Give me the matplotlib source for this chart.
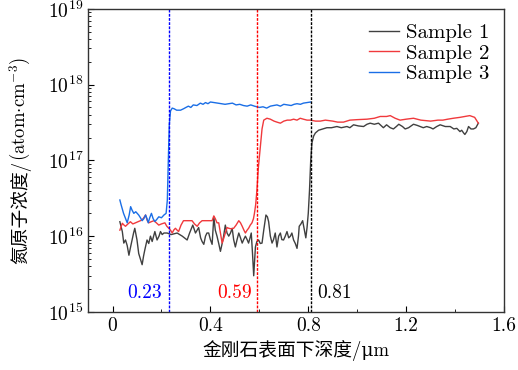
import matplotlib
matplotlib.use("Agg")
import matplotlib.pyplot as plt
from matplotlib.ticker import LogLocator, NullFormatter, MultipleLocator, FixedLocator, FixedFormatter

# 글꼴: 숫자/영문은 Computer Modern, 한자는 CJK
plt.rcParams['font.family'] = ['cmr10', 'DejaVu Serif', 'Noto Sans CJK SC']
plt.rcParams['mathtext.fontset'] = 'cm'
plt.rcParams['axes.formatter.use_mathtext'] = True
plt.rcParams['axes.unicode_minus'] = False

# data: (깊이 um, 농도 1e16 atom/cm^3)
sample1 = [
    (0.03, 1.55), (0.04, 1.15), (0.046, 0.81), (0.053, 0.89), (0.06, 0.75), (0.067, 0.56),
    (0.073, 0.7), (0.08, 0.89), (0.086, 1.1), (0.091, 1.27), (0.10, 0.89), (0.107, 0.59),
    (0.114, 0.5), (0.121, 0.42), (0.127, 0.55), (0.132, 0.66), (0.141, 0.89), (0.148, 0.8),
    (0.155, 1.0), (0.162, 0.85), (0.168, 1.0), (0.173, 1.15), (0.182, 0.89), (0.19, 1.0),
    (0.196, 1.15), (0.203, 1.05), (0.21, 1.1), (0.223, 1.1), (0.24, 1.05), (0.264, 1.1),
    (0.285, 1.0), (0.305, 0.89), (0.315, 1.1), (0.328, 1.4), (0.339, 1.1), (0.346, 1.2),
    (0.352, 1.3), (0.36, 0.95), (0.366, 0.85), (0.373, 0.78), (0.38, 1.0), (0.386, 1.1),
    (0.393, 1.1), (0.40, 0.9), (0.407, 0.78), (0.414, 1.8), (0.42, 1.2), (0.427, 1.0),
    (0.434, 0.8), (0.441, 0.63), (0.448, 0.8), (0.454, 1.0), (0.461, 1.4), (0.468, 1.1),
    (0.475, 1.0), (0.482, 1.1), (0.489, 1.27), (0.495, 0.9), (0.502, 0.72), (0.509, 0.9),
    (0.516, 1.1), (0.523, 0.95), (0.53, 0.81), (0.536, 0.9), (0.543, 1.0), (0.55, 0.9),
    (0.556, 0.81), (0.562, 0.95), (0.567, 1.1), (0.572, 0.6), (0.577, 0.3), (0.584, 0.72),
    (0.59, 0.85), (0.597, 0.89), (0.604, 0.8), (0.611, 0.81), (0.618, 1.2), (0.627, 1.9),
    (0.633, 1.8), (0.638, 1.55), (0.645, 1.0), (0.652, 0.81), (0.658, 0.9), (0.665, 1.1),
    (0.672, 0.72), (0.679, 1.0), (0.686, 1.1), (0.692, 0.9), (0.699, 0.89), (0.706, 1.0),
    (0.713, 1.15), (0.72, 0.95), (0.727, 1.0), (0.733, 1.1), (0.74, 0.89), (0.747, 0.8),
    (0.754, 0.69), (0.76, 1.0), (0.763, 1.35), (0.77, 1.45), (0.777, 1.6), (0.784, 1.2),
    (0.79, 0.95), (0.795, 1.3), (0.80, 2.0), (0.805, 4.0), (0.81, 10), (0.815, 17),
    (0.822, 21), (0.829, 23), (0.842, 25), (0.86, 26), (0.876, 27), (0.895, 27),
    (0.917, 28), (0.935, 27), (0.958, 28), (0.97, 27), (0.985, 29.5), (1.005, 28.5),
    (1.026, 28), (1.04, 30), (1.053, 31), (1.07, 30), (1.087, 31), (1.107, 27),
    (1.12, 29.5), (1.135, 27), (1.148, 26), (1.16, 28), (1.17, 30), (1.185, 28),
    (1.196, 26), (1.21, 27), (1.23, 30), (1.245, 29), (1.257, 28), (1.27, 27),
    (1.284, 28), (1.30, 27), (1.31, 26), (1.325, 28), (1.339, 29.5), (1.36, 28),
    (1.38, 28), (1.395, 26), (1.407, 26.5), (1.42, 24), (1.427, 25), (1.435, 23),
    (1.44, 22), (1.448, 24), (1.455, 28), (1.465, 26), (1.475, 26), (1.485, 27), (1.495, 31),
]
sample2 = [
    (0.03, 1.2), (0.04, 1.48), (0.047, 1.4), (0.053, 1.35), (0.063, 1.45), (0.073, 1.55),
    (0.083, 1.45), (0.094, 1.5), (0.104, 1.55), (0.114, 1.6), (0.125, 1.7), (0.135, 1.9),
    (0.142, 1.6), (0.148, 1.5), (0.158, 1.55), (0.169, 1.6), (0.179, 1.5), (0.189, 1.4),
    (0.20, 1.45), (0.214, 1.5), (0.222, 1.35), (0.23, 1.27), (0.237, 1.2), (0.244, 1.1),
    (0.25, 1.2), (0.257, 1.27), (0.264, 1.2), (0.27, 1.15), (0.28, 1.4), (0.29, 1.6),
    (0.31, 1.6), (0.325, 1.6), (0.335, 1.45), (0.346, 1.35), (0.356, 1.5), (0.366, 1.6),
    (0.38, 1.6), (0.395, 1.6), (0.407, 1.6), (0.414, 1.85), (0.42, 1.7), (0.427, 1.5),
    (0.434, 1.5), (0.441, 1.1), (0.448, 0.81), (0.455, 0.95), (0.461, 1.1), (0.468, 1.3),
    (0.475, 1.27), (0.485, 1.25), (0.495, 1.27), (0.505, 1.4), (0.516, 1.6), (0.523, 1.5),
    (0.53, 1.35), (0.537, 1.2), (0.543, 1.1), (0.55, 1.2), (0.556, 1.27), (0.563, 1.4),
    (0.57, 1.5), (0.576, 1.7), (0.58, 2.0), (0.585, 2.6), (0.59, 4.0), (0.596, 8.0),
    (0.604, 15), (0.611, 26), (0.618, 34), (0.631, 36), (0.645, 35), (0.66, 33),
    (0.672, 32), (0.686, 31), (0.70, 33), (0.714, 34), (0.727, 34), (0.74, 35),
    (0.754, 34), (0.767, 36), (0.78, 35), (0.795, 34), (0.808, 34), (0.83, 33),
    (0.849, 33), (0.87, 34), (0.90, 33), (0.92, 32), (0.944, 32), (0.97, 34),
    (1.00, 34.5), (1.04, 35), (1.07, 36), (1.094, 38), (1.12, 38), (1.135, 39),
    (1.155, 36), (1.175, 34), (1.20, 35), (1.23, 36), (1.26, 34), (1.30, 33),
    (1.33, 34), (1.35, 34), (1.37, 35), (1.393, 36), (1.42, 37), (1.44, 38),
    (1.46, 39), (1.48, 37), (1.495, 31),
]
sample3 = [
    (0.03, 3.0), (0.035, 2.6), (0.045, 2.0), (0.06, 1.5), (0.068, 1.9), (0.074, 2.45),
    (0.08, 2.2), (0.087, 2.0), (0.095, 2.1), (0.107, 1.9), (0.114, 1.75), (0.121, 1.6),
    (0.128, 1.7), (0.135, 1.9), (0.141, 1.7), (0.146, 1.5), (0.152, 1.75), (0.159, 2.0),
    (0.166, 1.7), (0.173, 1.56), (0.18, 1.65), (0.189, 1.8), (0.20, 1.75), (0.21, 1.9),
    (0.219, 2.0), (0.224, 3.0), (0.228, 10), (0.232, 30), (0.237, 45), (0.244, 49),
    (0.252, 48), (0.262, 46), (0.278, 46), (0.29, 48), (0.30, 50), (0.31, 52),
    (0.32, 50), (0.33, 54), (0.345, 53), (0.359, 57), (0.37, 55), (0.38, 58),
    (0.39, 56), (0.40, 59), (0.415, 58), (0.43, 57), (0.445, 56), (0.46, 55),
    (0.475, 56), (0.49, 57), (0.505, 54), (0.52, 55), (0.535, 53), (0.55, 52),
    (0.565, 54), (0.58, 52), (0.59, 51), (0.60, 50), (0.615, 51), (0.63, 49),
    (0.645, 52), (0.658, 53), (0.672, 54), (0.686, 52), (0.70, 55), (0.715, 54),
    (0.73, 53), (0.742, 55), (0.754, 56), (0.768, 55), (0.78, 57), (0.795, 58), (0.81, 59),
]
labels = ['Sample 1', 'Sample 2', 'Sample 3']
colors = ['#404040', '#f0393c', '#1a6ee6']

# 경계 깊이
edges = [0.23, 0.59, 0.81]
edge_colors = ['#0000ff', '#ff0000', '#000000']
edge_texts = ['0.23', '0.59', '0.81']

xticks = [0, 0.4, 0.8, 1.2, 1.6]
xtick_labels = ['0', '0.4', '0.8', '1.2', '1.6']

fig = plt.figure(figsize=(5.18, 3.70), dpi=100)
ax = fig.add_axes([0.170, 0.157, 0.803, 0.819])

for data, lab, c in zip([sample1, sample2, sample3], labels, colors):
    xs = [p[0] for p in data]
    ys = [p[1] * 1e16 for p in data]
    ax.plot(xs, ys, color=c, lw=1.0, label=lab)

for e, c in zip(edges, edge_colors):
    ax.axvline(e, color=c, lw=1.0, ls=(0, (2, 1)))

ax.text(edges[0] - 0.026, 1.75e15, edge_texts[0], color=edge_colors[0], fontsize=14, ha='right', va='center')
ax.text(edges[1] - 0.02, 1.75e15, edge_texts[1], color=edge_colors[1], fontsize=14, ha='right', va='center')
ax.text(edges[2] + 0.025, 1.75e15, edge_texts[2], color=edge_colors[2], fontsize=14, ha='left', va='center')

ax.set_yscale('log')
ax.set_ylim(1e15, 1e19)
ax.set_xlim(-0.1, 1.6)
ax.xaxis.set_major_locator(FixedLocator(xticks))
ax.xaxis.set_major_formatter(FixedFormatter(xtick_labels))
ax.xaxis.set_minor_locator(MultipleLocator(0.2))
ax.yaxis.set_major_locator(LogLocator(base=10, numticks=10))
ax.yaxis.set_minor_locator(LogLocator(base=10, subs=range(2, 10), numticks=20))
ax.yaxis.set_minor_formatter(NullFormatter())
ax.tick_params(which='both', direction='in', labelsize=14)
ax.tick_params(which='major', length=4)
ax.tick_params(which='minor', length=2)
for s in ax.spines.values():
    s.set_color('#333333')
    s.set_linewidth(1.0)

ax.set_xlabel('金刚石表面下深度/μm', fontsize=13.5)
ax.legend(loc='upper right', frameon=False, fontsize=15, handlelength=1.45,
          handletextpad=0.35, borderaxespad=0.3, labelspacing=0.1)

# y축 제목: 한자 부분 + 수식 부분 이어 붙이기
W, H = fig.bbox.width, fig.bbox.height
base_x = 26 / W
t1 = fig.text(base_x, 0, '氮原子浓度/', rotation=90, rotation_mode='anchor',
              ha='left', va='baseline', fontsize=13.5)
t2 = fig.text(base_x, 0, r'(atom$\cdot$cm$^{-3}$)', rotation=90, rotation_mode='anchor',
              ha='left', va='baseline', fontsize=13.5)
fig.canvas.draw()
r = fig.canvas.get_renderer()
h1 = t1.get_window_extent(r).height
h2 = t2.get_window_extent(r).height
y0 = (370 - 262) - 0.0
mid = (H - 160)
start = mid - (h1 + h2) / 2
t1.set_y(start / H)
t2.set_y((start + h1) / H)

fig.savefig('out.png', dpi=100)
